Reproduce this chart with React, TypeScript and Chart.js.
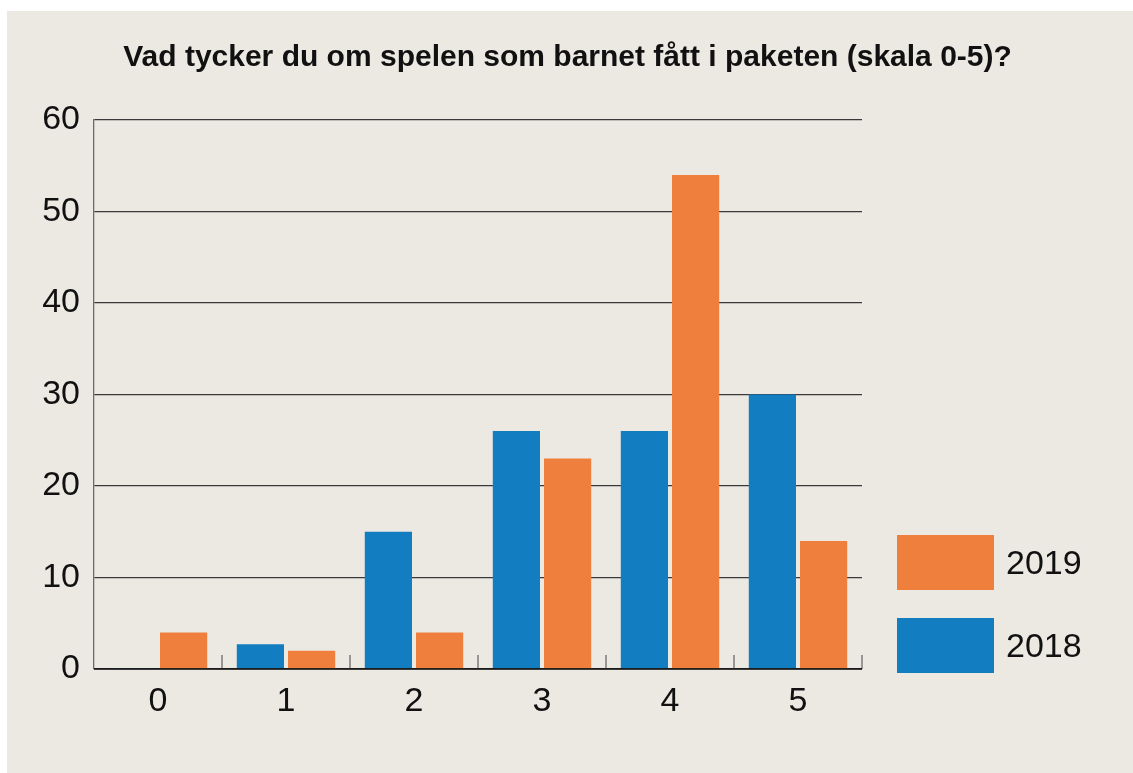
import React, { useEffect, useRef } from "react";
import { Chart, registerables } from "chart.js";

Chart.register(...registerables);

const categories = ["0", "1", "2", "3", "4", "5"];
const values2018 = [0, 2.7, 15, 26, 26, 30];
const values2019 = [4, 2, 4, 23, 54, 14];
const seriesLabels = ["2018", "2019"];
const seriesColors = ["#127EC1", "#EF7F3C"];
const yTicks = [0, 10, 20, 30, 40, 50, 60];
const titleText = "Vad tycker du om spelen som barnet fått i paketen (skala 0-5)?";

const FONT = "'Liberation Sans', Arial, Helvetica, sans-serif";
const PANEL = "#ECE9E3";

const backgroundPlugin = {
  id: "panelBackground",
  beforeDraw(chart: any) {
    const { ctx, width, height } = chart;
    ctx.save();
    ctx.fillStyle = "#ffffff";
    ctx.fillRect(0, 0, width, height);
    ctx.fillStyle = PANEL;
    ctx.fillRect(7, 11, width - 7, height - 11);
    ctx.restore();
  },
};

const titlePlugin = {
  id: "centeredTitle",
  afterDraw(chart: any) {
    const { ctx, width } = chart;
    ctx.save();
    ctx.font = `bold 30px ${FONT}`;
    ctx.fillStyle = "#111";
    ctx.textAlign = "center";
    ctx.textBaseline = "middle";
    ctx.fillText(titleText, width / 2 + 1, 58);
    ctx.restore();
  },
};

const categoryTicksPlugin = {
  id: "categoryTicks",
  afterDatasetsDraw(chart: any) {
    const { ctx, chartArea } = chart;
    const x = chart.scales.x;
    const n = categories.length;
    const step = x.getPixelForValue(1) - x.getPixelForValue(0);
    ctx.save();
    ctx.strokeStyle = "#6b6b6b";
    ctx.lineWidth = 1.3;
    for (let i = 0; i < n; i++) {
      const px = x.getPixelForValue(i) + step / 2;
      ctx.beginPath();
      ctx.moveTo(px, chartArea.bottom);
      ctx.lineTo(px, chartArea.bottom - 14);
      ctx.stroke();
    }
    ctx.strokeStyle = "#111";
    ctx.lineWidth = 1.5;
    const y0 = chart.scales.y.getPixelForValue(0);
    ctx.beginPath();
    ctx.moveTo(chartArea.left, y0);
    ctx.lineTo(chartArea.right, y0);
    ctx.stroke();
    ctx.restore();
  },
};

const legendPlugin = {
  id: "customLegend",
  afterDraw(chart: any) {
    const { ctx, chartArea } = chart;
    const ds = chart.data.datasets;
    const boxLeft = chartArea.right + 35;
    const boxW = 97;
    const boxH = 55;
    const order = [1, 0];
    const tops = [chartArea.bottom - 134, chartArea.bottom - 51];
    ctx.save();
    ctx.font = `34px ${FONT}`;
    ctx.textBaseline = "middle";
    ctx.textAlign = "left";
    order.forEach((di, k) => {
      const d = ds[di];
      ctx.fillStyle = d.backgroundColor;
      ctx.fillRect(boxLeft, tops[k], boxW, boxH);
      ctx.fillStyle = "#111";
      ctx.fillText(d.label, boxLeft + boxW + 12, tops[k] + boxH / 2 + 2);
    });
    ctx.restore();
  },
};

export default function App() {
  const canvasRef = useRef<HTMLCanvasElement | null>(null);

  useEffect(() => {
    if (!canvasRef.current) return;
    const chart = new Chart(canvasRef.current, {
      type: "bar",
      data: {
        labels: categories,
        datasets: [
          {
            label: seriesLabels[0],
            data: values2018,
            backgroundColor: seriesColors[0],
            borderWidth: 0,
            minBarLength: 1,
          },
          {
            label: seriesLabels[1],
            data: values2019,
            backgroundColor: seriesColors[1],
            borderWidth: 0,
          },
        ],
      },
      options: {
        responsive: false,
        animation: false,
        devicePixelRatio: 1,
        datasets: {
          bar: {
            categoryPercentage: 0.8,
            barPercentage: 0.922,
          },
        },
        layout: {
          padding: { left: 0, right: 271, top: 120, bottom: 0 },
        },
        plugins: {
          legend: { display: false },
          tooltip: { enabled: false },
          title: { display: false },
        },
        scales: {
          x: {
            grid: { display: false },
            border: { display: false },
            ticks: {
              color: "#111",
              font: { family: FONT, size: 34 },
              padding: 4,
            },
            afterFit: (scale: any) => {
              scale.height = 104;
            },
          },
          y: {
            min: yTicks[0],
            max: yTicks[yTicks.length - 1],
            grid: {
              color: "#3a3a3a",
              lineWidth: 1.3,
              drawTicks: false,
            },
            border: { display: true, color: "#6b6b6b", width: 1.3 },
            ticks: {
              stepSize: yTicks[1] - yTicks[0],
              color: "#111",
              font: { family: FONT, size: 34 },
              padding: 14,
            },
            afterFit: (scale: any) => {
              scale.width = 94;
            },
          },
        },
      },
      plugins: [backgroundPlugin, categoryTicksPlugin, legendPlugin, titlePlugin],
    } as any);
    return () => chart.destroy();
  }, []);

  return (
    <div style={{ position: "absolute", left: 0, top: 0, width: 1133, height: 773 }}>
      <canvas ref={canvasRef} width={1133} height={773} style={{ display: "block" }} />
    </div>
  );
}
